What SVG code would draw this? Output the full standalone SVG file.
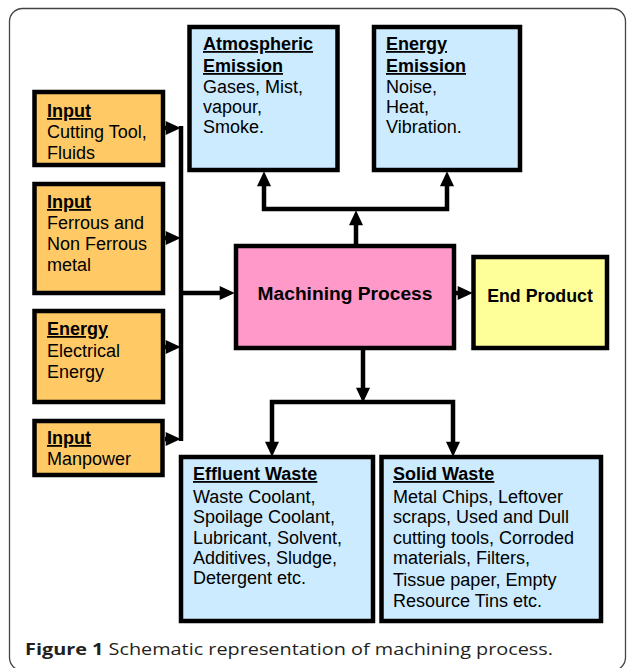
<svg xmlns="http://www.w3.org/2000/svg" width="627" height="668" viewBox="0 0 627 668">
<defs>
<style>
.box{stroke:#000;stroke-width:4.5}
.in{fill:#FFCA66}
.em{fill:#CCEBFF}
.mp{fill:#FF99C9}
.ep{fill:#FFFF99}
text{font-family:"Liberation Sans",Arial,Helvetica,sans-serif;fill:#000}
.t{font-size:18px}
.h{font-size:18px;font-weight:bold;text-decoration:underline}
.b{font-weight:bold;text-anchor:middle}
.con{fill:none;stroke:#000;stroke-width:4.5;stroke-linejoin:miter}
.cap{font-family:"Open Sans","Noto Sans","Liberation Sans",sans-serif;font-size:16.5px;fill:#231f20}
</style>
<marker id="ah" markerUnits="userSpaceOnUse" markerWidth="16" markerHeight="14" refX="4" refY="6.5" orient="auto-start-reverse" viewBox="0 0 14 13">
<path d="M0,0 L14,6.5 L0,13 z" fill="#000"/>
</marker>
</defs>
<rect x="9.5" y="8.5" width="616" height="662" rx="13" fill="#fff" stroke="#444" stroke-width="1.3"/>

<g id="connectors">
<path class="con" d="M181,126 V441"/>
<path class="con" d="M165,128 H170" marker-end="url(#ah)"/>
<path class="con" d="M165,238 H170" marker-end="url(#ah)"/>
<path class="con" d="M165,347 H170" marker-end="url(#ah)"/>
<path class="con" d="M165,439 H170" marker-end="url(#ah)"/>
<path class="con" d="M181,293 H224" marker-end="url(#ah)"/>
<path class="con" d="M456,293 H462" marker-end="url(#ah)"/>
<path class="con" d="M356,245 V221" marker-end="url(#ah)"/>
<path class="con" d="M264,182 V209 H447 V182" marker-start="url(#ah)" marker-end="url(#ah)"/>
<path class="con" d="M363,349 V392" marker-end="url(#ah)"/>
<path class="con" d="M272,446 V402 H453 V446" marker-start="url(#ah)" marker-end="url(#ah)"/>
</g>

<g id="input-cutting">
<rect class="box in" x="34.5" y="92" width="128.5" height="73"/>
<text class="h" x="47" y="117">Input</text>
<text class="t" x="47" y="138">Cutting Tool,</text>
<text class="t" x="47" y="159">Fluids</text>
</g>

<g id="input-metal">
<rect class="box in" x="34.5" y="184" width="128.5" height="109"/>
<text class="h" x="47" y="208">Input</text>
<text class="t" x="47" y="229">Ferrous and</text>
<text class="t" x="47" y="250">Non Ferrous</text>
<text class="t" x="47" y="271">metal</text>
</g>

<g id="energy-input">
<rect class="box in" x="34.5" y="311" width="128.5" height="91"/>
<text class="h" x="47" y="335">Energy</text>
<text class="t" x="47" y="357">Electrical</text>
<text class="t" x="47" y="378">Energy</text>
</g>

<g id="input-manpower">
<rect class="box in" x="34.5" y="421" width="128" height="54"/>
<text class="h" x="47" y="444">Input</text>
<text class="t" x="47" y="465">Manpower</text>
</g>

<g id="atmospheric">
<rect class="box em" x="189.5" y="27" width="148" height="143"/>
<text class="h" x="203" y="50">Atmospheric</text>
<text class="h" x="203" y="72">Emission</text>
<text class="t" x="203" y="93">Gases, Mist,</text>
<text class="t" x="203" y="113">vapour,</text>
<text class="t" x="203" y="133">Smoke.</text>
</g>

<g id="energy-emission">
<rect class="box em" x="374" y="27" width="146" height="143"/>
<text class="h" x="386" y="50">Energy</text>
<text class="h" x="386" y="72">Emission</text>
<text class="t" x="386" y="93">Noise,</text>
<text class="t" x="386" y="113">Heat,</text>
<text class="t" x="386" y="133">Vibration.</text>
</g>

<g id="machining">
<rect class="box mp" x="236" y="246" width="218" height="102"/>
<text class="b" x="345" y="300" font-size="19.2">Machining Process</text>
</g>

<g id="end-product">
<rect class="box ep" x="473.5" y="257" width="133.5" height="91"/>
<text class="b" x="540" y="302" font-size="17.8">End Product</text>
</g>

<g id="effluent">
<rect class="box em" x="181" y="457" width="192" height="164"/>
<text class="h" x="193" y="480">Effluent Waste</text>
<text class="t" x="193" y="503">Waste Coolant,</text>
<text class="t" x="193" y="523">Spoilage Coolant,</text>
<text class="t" x="193" y="544">Lubricant, Solvent,</text>
<text class="t" x="193" y="564">Additives, Sludge,</text>
<text class="t" x="193" y="584">Detergent etc.</text>
</g>

<g id="solid">
<rect class="box em" x="381.5" y="457" width="219.5" height="164"/>
<text class="h" x="393" y="480">Solid Waste</text>
<text class="t" x="393" y="503">Metal Chips, Leftover</text>
<text class="t" x="393" y="523">scraps, Used and Dull</text>
<text class="t" x="393" y="544">cutting tools, Corroded</text>
<text class="t" x="393" y="564">materials, Filters,</text>
<text class="t" x="393" y="586">Tissue paper, Empty</text>
<text class="t" x="393" y="607">Resource Tins etc.</text>
</g>

<text class="cap" x="25" y="655" textLength="528" lengthAdjust="spacingAndGlyphs"><tspan font-weight="bold">Figure 1</tspan> Schematic representation of machining process.</text>
</svg>
